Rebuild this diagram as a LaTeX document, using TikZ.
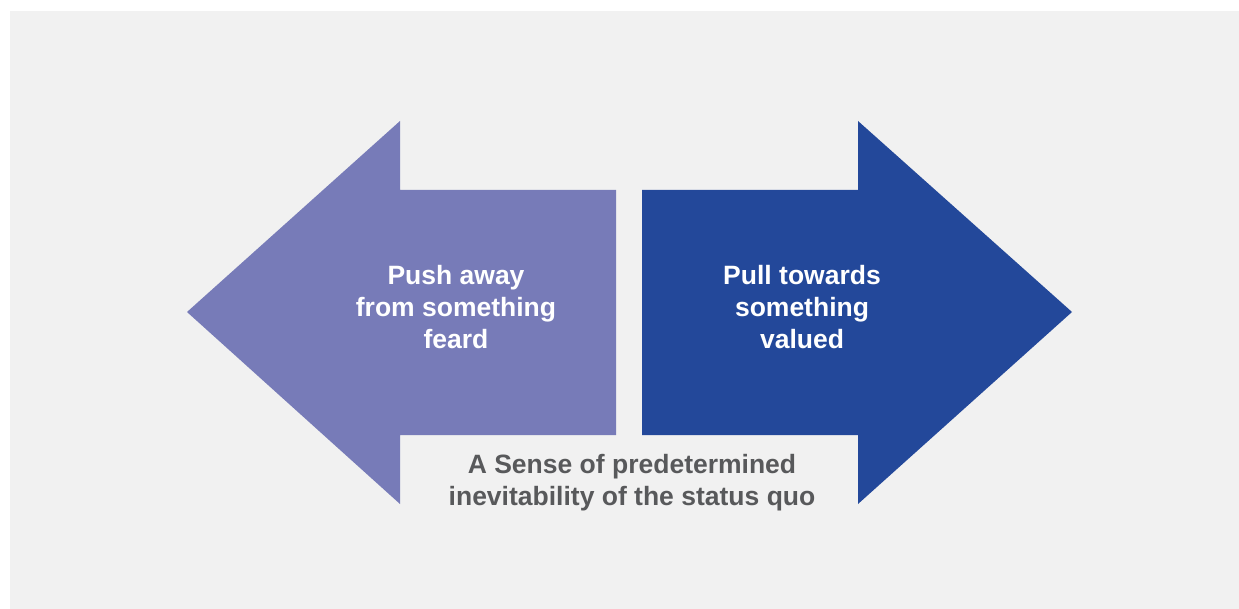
\documentclass[tikz,border=0pt]{standalone}
\usepackage{fontspec}
\setmainfont{Liberation Sans}
\definecolor{bggrey}{HTML}{F1F1F1}
\definecolor{pushcol}{HTML}{777BB8}
\definecolor{pullcol}{HTML}{23489A}
\definecolor{textgrey}{HTML}{58595B}
\begin{document}
\begin{tikzpicture}[x=1pt,y=-1pt,
  label/.style={font=\fontsize{26.5}{32}\selectfont\bfseries, align=center, inner sep=0pt}]
\useasboundingbox (0,0) rectangle (1239,609);
\fill[white] (0,0) rectangle (1239,609);
\fill[bggrey] (10,11) rectangle (1239,609);
% left arrow
\fill[pushcol] (187,312) -- (400,121) -- (400,190) -- (616,190) -- (616,435) -- (400,435) -- (400,504) -- cycle;
% right arrow
\fill[pullcol] (1072,312) -- (858,121) -- (858,190) -- (642,190) -- (642,435) -- (858,435) -- (858,504) -- cycle;
\node[label, text=white] (push) at (456,307) {Push away\\from something\\feard};
\node[label, text=white] (pull) at (802,307) {Pull towards\\something\\valued};
\node[label, text=textgrey] (sense) at (632,483) {A Sense of predetermined\\inevitability of the status quo};
\end{tikzpicture}
\end{document}
